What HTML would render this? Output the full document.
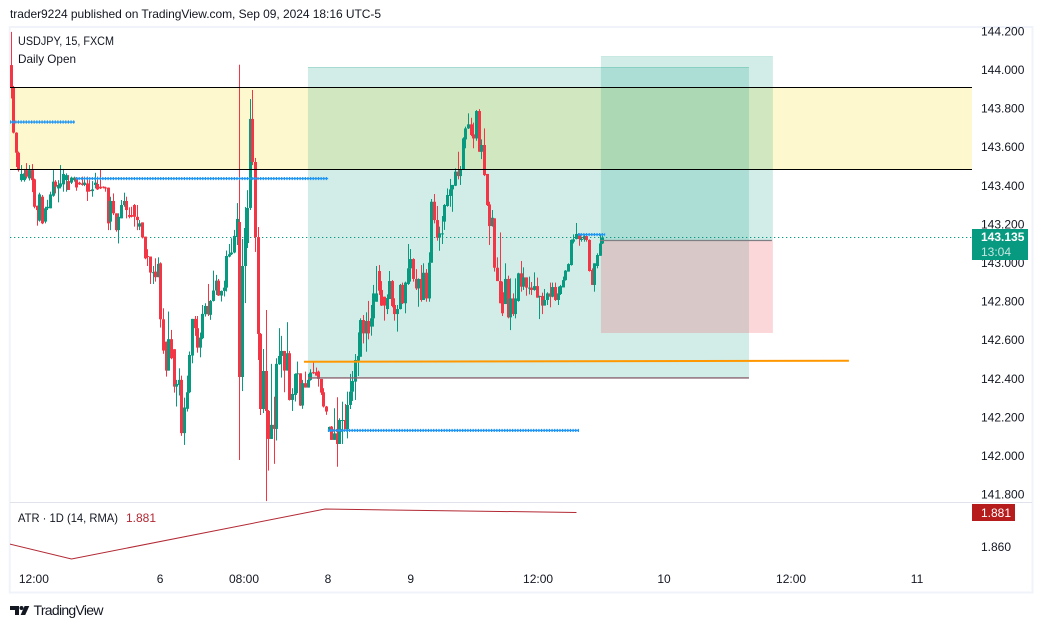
<!DOCTYPE html>
<html>
<head>
<meta charset="utf-8">
<title>USDJPY chart</title>
<style>
html,body{margin:0;padding:0;background:#fff;width:1043px;height:628px;overflow:hidden}
svg{display:block}
text{font-family:"Liberation Sans","DejaVu Sans",sans-serif;font-size:12px;fill:#131722}
</style>
</head>
<body>
<svg id="chart" width="1043" height="628" viewBox="0 0 1043 628" xmlns="http://www.w3.org/2000/svg">
  <defs>
    <clipPath id="pane"><rect x="10" y="28" width="962" height="474"/></clipPath>
    <clipPath id="atrpane"><rect x="10" y="503" width="962" height="60"/></clipPath>
  </defs>
  <text x="10" y="18" textLength="371" lengthAdjust="spacing">trader9224 published on TradingView.com, Sep 09, 2024 18:16 UTC-5</text>
  <rect x="9.7" y="27" width="1022.8" height="565.5" fill="#fff" stroke="#f0f3fa" stroke-width="2"/>
  <g id="zones" clip-path="url(#pane)"></g>
  <g id="candles" clip-path="url(#pane)"></g>
  <g id="overlays" clip-path="url(#pane)"></g>
  <g id="priceaxis"></g>
  <line x1="10" x2="1032" y1="502.5" y2="502.5" stroke="#e0e3eb" stroke-width="1"/>
  <g id="atr" clip-path="url(#atrpane)"></g>
  <g id="timeaxis"></g>
  <text x="18" y="45" textLength="96" lengthAdjust="spacingAndGlyphs">USDJPY, 15, FXCM</text>
  <text x="18" y="63" textLength="58" lengthAdjust="spacingAndGlyphs">Daily Open</text>
  <text x="18" y="522" textLength="100" lengthAdjust="spacingAndGlyphs">ATR · 1D (14, RMA)</text>
  <text id="atr-legend-value" x="126" y="522" fill="#b22833" style="fill:#b22833">1.881</text>
  <rect x="972" y="229" width="56" height="31" fill="#089981"/>
  <text x="981" y="241" style="fill:#fff;font-weight:bold">143.135</text>
  <text x="981" y="256" style="fill:#c4e6e0">13:04</text>
  <rect x="972" y="504" width="43" height="17" fill="#b71c1c"/>
  <text x="981" y="517" style="fill:#fff">1.881</text>
  <g>
    <path d="M10 606H19V615H15V610H10Z" fill="#131722"/>
    <circle cx="21.5" cy="608" r="2" fill="#131722"/>
    <path d="M24.6 606H29.3L25.2 615H20.6Z" fill="#131722"/>
    <text x="33.5" y="615" textLength="70" lengthAdjust="spacing" style="font-size:14px">TradingView</text>
  </g>
</svg>
<script>
const opens=[144.028,143.913,143.678,143.574,143.432,143.432,143.484,143.441,143.484,143.436,
143.299,143.222,143.346,143.217,143.286,143.286,143.351,143.424,143.389,143.398,
143.410,143.432,143.427,143.419,143.432,143.445,143.419,143.415,143.407,143.415,
143.381,143.375,143.407,143.412,143.398,143.398,143.394,143.393,143.217,143.324,
143.260,143.173,143.234,143.303,143.324,143.251,143.251,143.303,143.242,143.191,
143.213,143.139,143.039,143.036,142.953,142.958,142.929,143.001,142.711,142.595,
142.445,142.608,142.556,142.362,142.371,142.397,142.121,142.247,142.333,142.523,
142.713,142.665,142.564,142.613,142.737,142.780,142.734,142.806,142.860,142.911,
142.834,142.858,142.875,143.036,143.048,143.057,143.137,143.215,142.412,142.987,
143.106,143.288,143.749,143.526,143.137,142.635,142.246,142.443,142.236,142.091,
142.164,142.143,142.478,142.521,142.547,142.445,142.535,142.293,142.319,142.428,
142.431,142.264,142.380,142.357,142.397,142.437,142.437,142.440,142.402,142.333,
142.259,142.132,142.155,142.086,142.120,142.065,142.186,142.189,142.141,142.267,
142.336,142.388,142.497,142.517,142.707,142.638,142.702,142.673,142.716,142.802,
142.961,142.863,142.828,142.764,142.816,142.909,142.785,142.738,142.764,142.889,
142.794,142.894,142.975,143.023,142.920,142.871,142.920,142.811,142.952,142.819,
143.004,143.320,143.225,143.134,143.153,143.217,143.298,143.350,143.384,143.403,
143.476,143.453,143.488,143.643,143.700,143.721,143.669,143.648,143.790,143.579,
143.614,143.464,143.306,143.194,143.234,142.978,142.909,142.851,142.790,142.920,
142.721,142.819,142.738,142.806,142.949,142.880,142.928,142.871,142.875,142.863,
142.883,142.828,142.832,142.782,142.811,142.845,142.828,142.878,142.811,142.842,
142.876,142.914,142.958,142.992,143.113,143.127,143.153,143.122,143.125,143.142,
143.122,142.966,142.889,142.987,143.040,143.104];
const closes=[143.913,143.678,143.574,143.484,143.464,143.467,143.450,143.484,143.432,143.294,
143.277,143.358,143.208,143.286,143.294,143.358,143.424,143.398,143.407,143.415,
143.464,143.458,143.381,143.445,143.445,143.394,143.410,143.407,143.419,143.372,
143.375,143.384,143.419,143.384,143.389,143.393,143.393,143.208,143.324,143.260,
143.173,143.242,143.303,143.324,143.277,143.242,143.242,143.242,143.225,143.208,
143.135,143.027,143.036,142.953,142.955,142.929,142.998,142.711,142.549,142.445,
142.608,142.509,142.362,142.376,142.397,142.121,142.254,142.333,142.526,142.713,
142.665,142.564,142.616,142.739,142.780,142.737,142.806,142.860,142.911,142.834,
142.858,142.875,143.039,143.048,143.057,143.143,143.231,142.412,142.987,143.184,
143.288,143.749,143.526,143.137,142.635,142.246,142.443,142.236,142.091,142.164,
142.143,142.480,142.521,142.547,142.445,142.535,142.293,142.324,142.428,142.431,
142.264,142.380,142.357,142.397,142.435,142.431,142.419,142.402,142.331,142.259,
142.233,142.153,142.086,142.120,142.065,142.189,142.189,142.141,142.267,142.336,
142.391,142.500,142.521,142.707,142.638,142.702,142.638,142.716,142.845,142.845,
142.859,142.782,142.782,142.821,142.909,142.780,142.738,142.764,142.889,142.794,
142.901,142.975,143.023,142.920,142.871,142.920,142.811,142.952,142.819,143.004,
143.320,143.225,143.134,143.156,143.156,143.303,143.355,143.384,143.407,143.476,
143.453,143.488,143.648,143.700,143.721,143.666,143.648,143.790,143.579,143.614,
143.458,143.303,143.194,143.237,142.978,142.909,142.794,142.742,142.920,142.721,
142.819,142.738,142.819,142.949,142.880,142.928,142.875,142.875,142.863,142.883,
142.823,142.832,142.782,142.811,142.845,142.828,142.878,142.811,142.845,142.883,
142.914,142.963,142.997,143.122,143.125,143.153,143.127,143.127,143.142,143.122,
142.961,142.889,143.001,143.044,143.104,143.135];
const highs=[144.20,143.92,143.68,143.58,143.51,143.49,143.52,143.51,143.515,143.44,
143.30,143.367,143.355,143.294,143.33,143.372,143.484,143.432,143.432,143.51,
143.49,143.467,143.458,143.45,143.45,143.445,143.424,143.45,143.45,143.45,
143.432,143.427,143.47,143.45,143.488,143.40,143.398,143.394,143.346,143.363,
143.26,143.26,143.329,143.367,143.346,143.291,143.294,143.308,143.303,143.225,
143.213,143.139,143.074,143.036,142.987,143.027,143.032,143.006,142.768,142.595,
142.751,142.656,142.556,142.397,142.457,142.419,142.305,142.419,142.544,142.713,
142.728,142.728,142.642,142.785,142.794,142.894,142.811,142.963,142.941,142.920,
142.860,142.911,143.067,143.101,143.131,143.174,143.313,144.03,143.127,143.293,
143.38,143.852,143.899,143.547,143.189,142.640,142.557,142.759,142.241,142.480,
142.310,142.509,142.665,142.625,142.547,142.696,142.547,142.354,142.431,142.492,
142.431,142.397,142.440,142.428,142.452,142.492,142.461,142.445,142.402,142.354,
142.262,142.155,142.158,142.250,142.307,142.198,142.284,142.272,142.336,142.428,
142.443,142.531,142.643,142.716,142.733,142.747,142.806,142.785,142.889,142.987,
142.992,142.909,142.828,142.840,142.961,142.914,142.820,142.785,142.894,142.901,
142.906,143.101,143.075,143.027,142.971,142.923,142.992,143.001,142.971,143.058,
143.334,143.360,143.298,143.191,143.246,143.308,143.389,143.438,143.407,143.493,
143.579,143.505,143.654,143.709,143.778,143.755,143.730,143.795,143.800,143.643,
143.700,143.464,143.320,143.277,143.234,143.032,143.161,142.906,143.001,142.937,
142.923,142.845,142.923,142.952,143.013,142.980,142.928,142.932,142.904,142.954,
142.927,142.833,142.849,142.868,142.851,142.901,142.901,142.901,142.880,142.889,
142.932,142.966,143.001,143.125,143.151,143.210,143.156,143.139,143.148,143.148,
143.125,142.975,143.001,143.053,143.148,143.148];
const lows=[143.855,143.674,143.50,143.476,143.424,143.424,143.44,143.43,143.37,143.286,
143.196,143.217,143.204,143.208,143.277,143.286,143.346,143.363,143.317,143.389,
143.372,143.372,143.381,143.412,143.424,143.377,143.407,143.403,143.401,143.324,
143.372,143.346,143.389,143.381,143.386,143.389,143.372,143.173,143.173,143.251,
143.165,143.104,143.234,143.294,143.234,143.234,143.239,143.191,143.173,143.173,
143.130,143.022,142.987,142.894,142.894,142.906,142.929,142.668,142.532,142.414,
142.445,142.504,142.331,142.259,142.316,142.107,142.060,142.233,142.328,142.483,
142.625,142.538,142.514,142.608,142.725,142.728,142.708,142.803,142.837,142.832,
142.803,142.829,142.855,143.032,143.044,143.053,143.096,141.982,142.339,142.795,
143.080,143.277,143.510,143.060,142.500,142.215,142.225,141.769,141.927,142.091,
141.962,142.083,142.475,142.409,142.333,142.445,142.290,142.236,142.285,142.328,
142.262,142.247,142.357,142.357,142.393,142.428,142.419,142.362,142.319,142.254,
142.216,142.129,142.086,142.086,141.947,142.065,142.065,142.141,142.094,142.246,
142.288,142.293,142.417,142.517,142.586,142.543,142.607,142.626,142.673,142.802,
142.837,142.780,142.704,142.738,142.816,142.773,142.704,142.647,142.762,142.790,
142.742,142.889,142.906,142.906,142.863,142.776,142.802,142.811,142.802,142.802,
143.004,143.208,143.118,143.066,143.101,143.174,143.294,143.294,143.268,143.401,
143.436,143.407,143.488,143.597,143.697,143.660,143.597,143.636,143.579,143.541,
143.453,143.298,143.096,143.191,142.958,142.909,142.794,142.728,142.790,142.716,
142.655,142.728,142.716,142.802,142.854,142.863,142.833,142.840,142.837,142.859,
142.823,142.712,142.738,142.782,142.785,142.773,142.825,142.806,142.785,142.837,
142.876,142.911,142.958,142.989,143.104,143.125,143.092,143.113,143.113,143.113,
142.958,142.889,142.854,142.975,143.040,143.101];
const priceTicks=[144.2,144.0,143.8,143.6,143.4,143.2,143.0,142.8,142.6,142.4,142.2,142.0,141.8];
const timeLabels=["12:00","6","08:00","8","9","12:00","10","12:00","11"];
const timeLabelBars=[8.7,56.7,88.6,120.5,152,200.4,248.3,296.6,344.5];
const atrBars=[-1,23,119.4,215];
const atrValues=[1.862,1.8527,1.8831,1.881];
const atrTicks=[1.86];
const lastPrice=143.135;
const zonePrices=[143.912,143.487];
const longOne={fromBar:112.9,toBar:280.6,target:144.018,entry:142.407};
const longTwo={fromBar:224.3,toBar:289.7,target:144.07,entry:143.119,stop:142.64};
const blueLevels=[[143.733,-0.4,24.3],[143.44,24.7,120.6],[143.15,215.6,225.9],[142.135,120.5,216]];
const orangeLine={fromBar:111.4,toBar:318.6,fromPrice:142.491,toPrice:142.496};

const xBar=i=>11+2.63*i;
const yPrice=p=>70.5+(144-p)*193;
const ySnap=p=>Math.floor(yPrice(p))+0.5;
const yAtr=v=>512.5+(1.881-v)*1643;
const NS='http://www.w3.org/2000/svg';
function mk(parent,tag,attrs){
  const el=document.createElementNS(NS,tag);
  for(const k in attrs)el.setAttribute(k,attrs[k]);
  parent.appendChild(el);
  return el;
}
const zones=document.getElementById('zones');
const candles=document.getElementById('candles');
const overlays=document.getElementById('overlays');
const priceAxis=document.getElementById('priceaxis');
const timeAxis=document.getElementById('timeaxis');
const atr=document.getElementById('atr');

// supply zone
const zone=mk(zones,'rect',{x:10,width:962,y:ySnap(zonePrices[0]),height:ySnap(zonePrices[1])-ySnap(zonePrices[0]),fill:'#fef8ce'});



// long position one
const l1=mk(zones,'rect',{x:xBar(longOne.fromBar),width:xBar(longOne.toBar)-xBar(longOne.fromBar),y:yPrice(longOne.target),height:yPrice(longOne.entry)-yPrice(longOne.target),fill:'rgba(8,153,129,0.18)'});


const l1top=mk(zones,'line',{x1:xBar(longOne.fromBar),x2:xBar(longOne.toBar),y1:ySnap(longOne.target),y2:ySnap(longOne.target),stroke:'rgba(8,153,129,0.22)','stroke-width':1});



// long position two
const l2=mk(zones,'rect',{x:xBar(longTwo.fromBar),width:xBar(longTwo.toBar)-xBar(longTwo.fromBar),y:yPrice(longTwo.target),height:yPrice(longTwo.entry)-yPrice(longTwo.target),fill:'rgba(8,153,129,0.18)'});


const l2top=mk(zones,'line',{x1:xBar(longTwo.fromBar),x2:xBar(longTwo.toBar),y1:ySnap(longTwo.target),y2:ySnap(longTwo.target),stroke:'rgba(8,153,129,0.22)','stroke-width':1});


const l2s=mk(zones,'rect',{x:xBar(longTwo.fromBar),width:xBar(longTwo.toBar)-xBar(longTwo.fromBar),y:yPrice(longTwo.entry),height:yPrice(longTwo.stop)-yPrice(longTwo.entry),fill:'rgba(242,54,69,0.2)'});



// last price dotted line
const lp=mk(zones,'line',{x1:10,x2:972,y1:ySnap(lastPrice),y2:ySnap(lastPrice),stroke:'#089981','stroke-width':1,'stroke-dasharray':'1.3 2.7'});



// candles
for(let i=0;i<opens.length;i++){
  const up=closes[i]>=opens[i];
  const col=up?'#089981':'#f23645';
  const cx=xBar(i);
  const g=mk(candles,'g',{});
  
  
  const wick=mk(g,'rect',{x:Math.round(cx-0.5),width:1,y:yPrice(highs[i]),height:Math.max(1,yPrice(lows[i])-yPrice(highs[i])),fill:col});
  
  
  const top=yPrice(Math.max(opens[i],closes[i]));
  const bot=yPrice(Math.min(opens[i],closes[i]));
  const body=mk(g,'rect',{x:Math.round(cx-1.5),width:3,y:top,height:Math.max(1,bot-top),fill:col});
  
  
}

// zone borders
zonePrices.forEach(function(p){
  const l=mk(overlays,'line',{x1:10,x2:972,y1:ySnap(p),y2:ySnap(p),stroke:'#000','stroke-width':1});
  
  
});
const l1b=mk(overlays,'line',{x1:xBar(longOne.fromBar),x2:xBar(longOne.toBar),y1:yPrice(longOne.entry),y2:yPrice(longOne.entry),stroke:'#8a6470','stroke-width':1.3});


const l2e=mk(overlays,'line',{x1:xBar(longTwo.fromBar)-1,x2:xBar(longTwo.toBar)-1,y1:yPrice(longTwo.entry),y2:yPrice(longTwo.entry),stroke:'#7d7f85','stroke-width':1.2});



// orange horizontal line
const ol=mk(overlays,'line',{x1:xBar(orangeLine.fromBar),x2:xBar(orangeLine.toBar),y1:yPrice(orangeLine.fromPrice),y2:yPrice(orangeLine.toPrice),stroke:'#ff9800','stroke-width':2});



// blue dotted levels
blueLevels.forEach(function(b){
  const y=yPrice(b[0]);
  const g=mk(overlays,'g',{});
  
  
  const a=mk(g,'line',{x1:xBar(b[1]),x2:xBar(b[2]),y1:y,y2:y,stroke:'#2196f3','stroke-width':1.4});
  
  
  const t=mk(g,'line',{x1:xBar(b[1]),x2:xBar(b[2]),y1:y,y2:y,stroke:'#2196f3','stroke-width':3.2,'stroke-dasharray':'1.2 1.43'});
  
  
});

// price axis labels
priceTicks.forEach(function(p){
  const t=mk(priceAxis,'text',{x:981,y:yPrice(p)+3.5});
  
  
  t.textContent=p.toFixed(3);
});
atrTicks.forEach(function(v){
  const t=mk(priceAxis,'text',{x:981,y:yAtr(v)+4});
  
  
  t.textContent=v.toFixed(3);
});

// time axis labels
timeLabels.forEach(function(s,i){
  const t=mk(timeAxis,'text',{x:xBar(timeLabelBars[i]),y:583,'text-anchor':'middle'});
  
  
  t.textContent=s;
});

// ATR line
const atrLine=mk(atr,'polyline',{points:atrBars.map(function(b,i){return xBar(b)+','+yAtr(atrValues[i]);}).join(' '),fill:'none',stroke:'#b22833','stroke-width':1});


</script>
</body>
</html>
